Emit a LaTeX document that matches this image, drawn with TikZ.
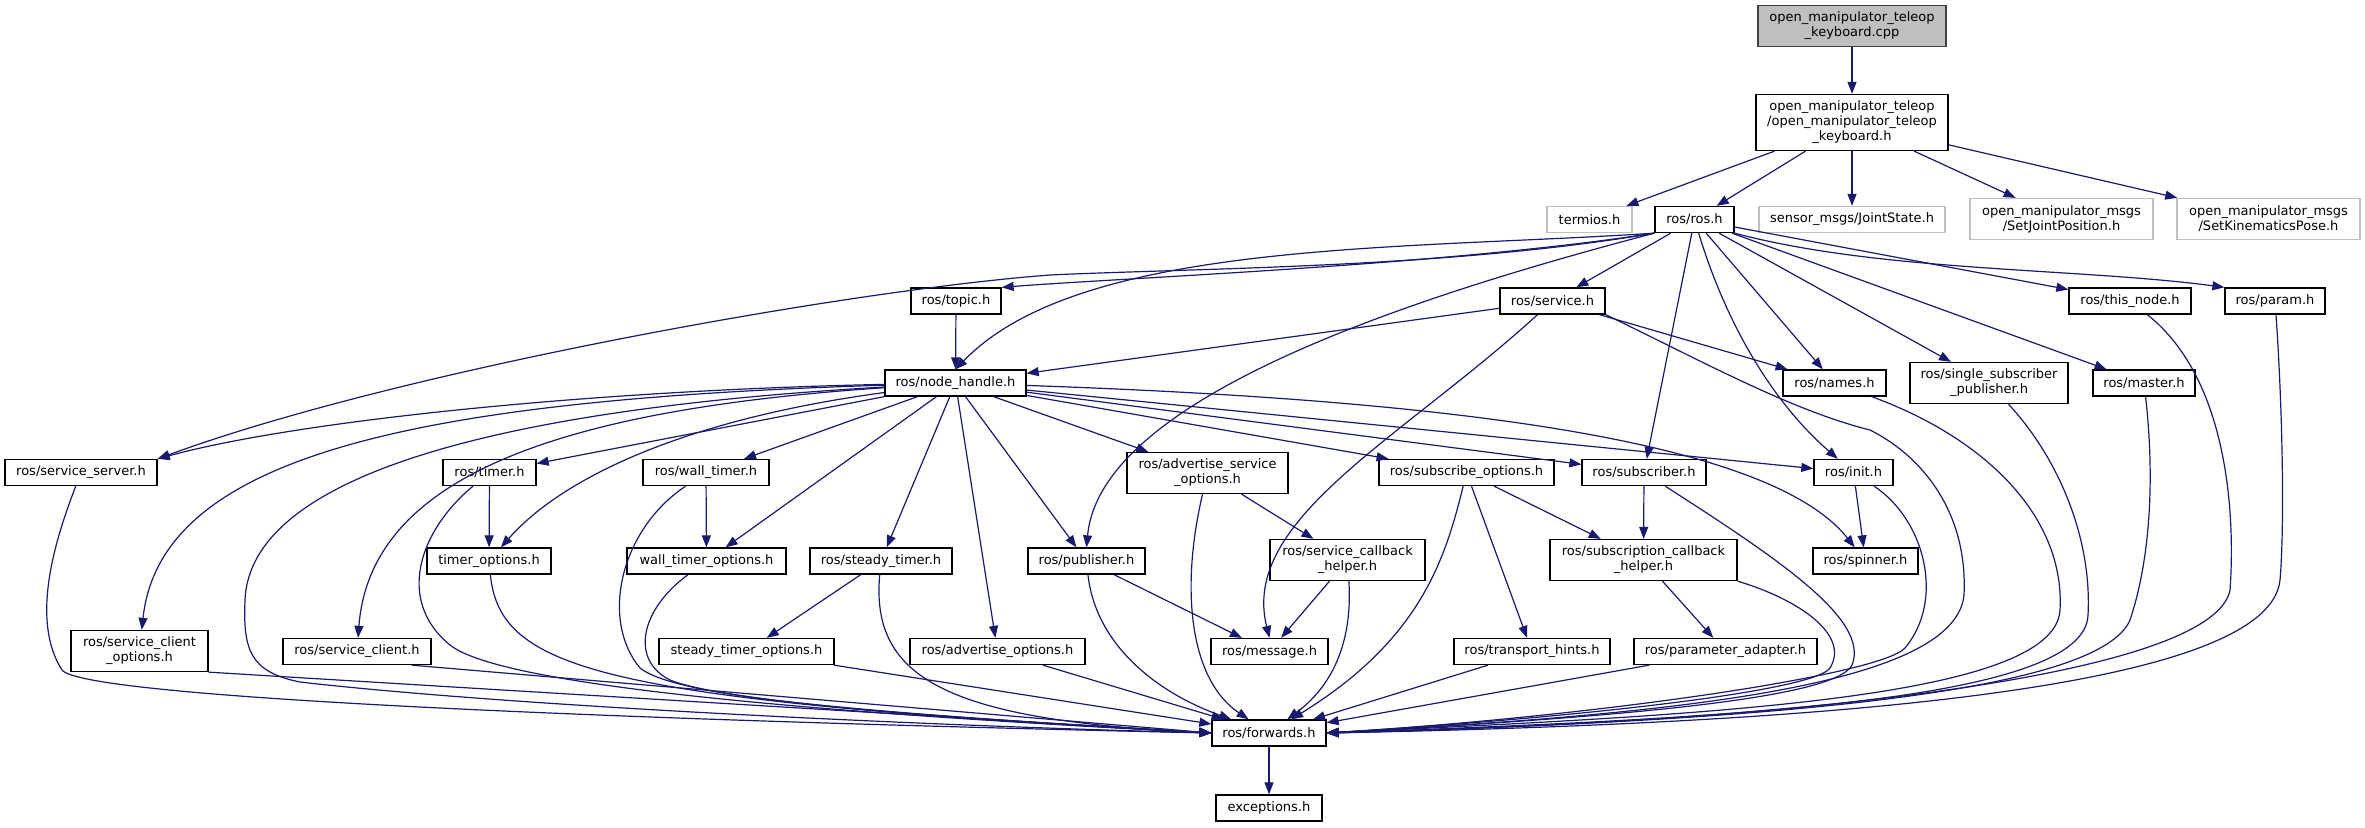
\documentclass[tikz,border=0pt]{standalone}
\usepackage{fontspec}
\setmainfont{DejaVu Sans}
\usetikzlibrary{arrows.meta}
\definecolor{edgeblue}{HTML}{191970}
\definecolor{grayline}{HTML}{BFBFBF}
\definecolor{darkline}{HTML}{404040}
\begin{document}
\begin{tikzpicture}[x=1pt, y=-1pt,
    font=\fontsize{13}{15}\selectfont,
    file/.style={draw=black, fill=white, line width=1.3pt, inner sep=0pt, align=center, minimum height=26pt},
    sysfile/.style={file, draw=grayline},
    mainfile/.style={file, draw=darkline, fill=grayline},
    twolines/.style={minimum height=41pt},
    threelines/.style={minimum height=56pt},
    dep/.style={->, >={Triangle[length=12pt,width=9pt]}, draw=edgeblue, line width=1.2pt}]
        \useasboundingbox (0,0) rectangle (2365,827);
        % top of the graph
        \node[mainfile, twolines, minimum width=188pt] (cpp) at (1852,26) {open\_manipulator\_teleop\\\_keyboard.cpp};
        \node[file, threelines, minimum width=192pt] (kbd) at (1852,122.5) {open\_manipulator\_teleop\\/open\_manipulator\_teleop\\\_keyboard.h};
        \node[sysfile, minimum width=85pt] (termios) at (1589.5,219.5) {termios.h};
        \node[file, minimum width=79pt] (ros) at (1694.5,219.5) {ros/ros.h};
        \node[sysfile, minimum width=186pt] (jointstate) at (1852,219.5) {sensor\_msgs/JointState.h};
        \node[sysfile, twolines, minimum width=183pt] (setjoint) at (2061.5,219) {open\_manipulator\_msgs\\/SetJointPosition.h};
        \node[sysfile, twolines, minimum width=183pt] (setpose) at (2268.5,219) {open\_manipulator\_msgs\\/SetKinematicsPose.h};
        % ros headers
        \node[file, minimum width=90pt] (topic) at (956,301) {ros/topic.h};
        \node[file, minimum width=105pt] (service) at (1552.5,301) {ros/service.h};
        \node[file, minimum width=122pt] (thisnode) at (2130,301) {ros/this\_node.h};
        \node[file, minimum width=100pt] (param) at (2275,301) {ros/param.h};
        \node[file, minimum width=141pt] (nh) at (955.5,383) {ros/node\_handle.h};
        \node[file, minimum width=103pt] (names) at (1834.5,383) {ros/names.h};
        \node[file, twolines, minimum width=158pt] (ssp) at (1989,383) {ros/single\_subscriber\\\_publisher.h};
        \node[file, minimum width=102pt] (master) at (2144,383) {ros/master.h};
        \node[file, minimum width=152pt] (sserver) at (81,472.5) {ros/service\_server.h};
        \node[file, minimum width=93pt] (timer) at (489.5,472.5) {ros/timer.h};
        \node[file, minimum width=126pt] (wtimer) at (706,472.5) {ros/wall\_timer.h};
        \node[file, twolines, minimum width=161pt] (aso) at (1207.5,473) {ros/advertise\_service\\\_options.h};
        \node[file, minimum width=175pt] (subopt) at (1466.5,472.5) {ros/subscribe\_options.h};
        \node[file, minimum width=124pt] (subscriber) at (1644,472.5) {ros/subscriber.h};
        \node[file, minimum width=79pt] (init) at (1853.5,472.5) {ros/init.h};
        \node[file, minimum width=124pt] (topt) at (489,561) {timer\_options.h};
        \node[file, minimum width=159pt] (wtopt) at (706.5,561) {wall\_timer\_options.h};
        \node[file, minimum width=142pt] (steady) at (881,561) {ros/steady\_timer.h};
        \node[file, minimum width=117pt] (publisher) at (1086.5,561) {ros/publisher.h};
        \node[file, twolines, minimum width=155pt] (sch) at (1347.5,560) {ros/service\_callback\\\_helper.h};
        \node[file, twolines, minimum width=187pt] (subcb) at (1643.5,560) {ros/subscription\_callback\\\_helper.h};
        \node[file, minimum width=105pt] (spinner) at (1865.5,561) {ros/spinner.h};
        \node[file, twolines, minimum width=137pt] (sco) at (139.5,651) {ros/service\_client\\\_options.h};
        \node[file, minimum width=148pt] (sclient) at (357,651.5) {ros/service\_client.h};
        \node[file, minimum width=175pt] (stopt) at (746.5,651.5) {steady\_timer\_options.h};
        \node[file, minimum width=175pt] (advopt) at (997.5,651.5) {ros/advertise\_options.h};
        \node[file, minimum width=117pt] (message) at (1269.5,651.5) {ros/message.h};
        \node[file, minimum width=156pt] (thints) at (1532,651.5) {ros/transport\_hints.h};
        \node[file, minimum width=183pt] (padapter) at (1725.5,651.5) {ros/parameter\_adapter.h};
        \node[file, minimum width=114pt] (fwd) at (1269,733) {ros/forwards.h};
        \node[file, minimum width=106pt] (exc) at (1269,808) {exceptions.h};
        % includes of the two top files
        \draw[dep] (cpp) -- (kbd);
        \draw[dep] (kbd) -- (termios);
        \draw[dep] (kbd) -- (ros);
        \draw[dep] (kbd) -- (jointstate);
        \draw[dep] (kbd) -- (setjoint);
        \draw[dep] (kbd) -- (setpose);
        % ros/ros.h
        \draw[dep] (ros.south west) .. controls (1450,268) and (1200,268) .. (1050,275) .. controls (850,290) and (400,370) .. (sserver.north east);
        \draw[dep] (ros.south west) .. controls (1450,265) and (1120,278) .. (topic.north east);
        \draw[dep] (ros.south west) .. controls (1400,250) and (1080,240) .. (nh.north);
        \draw[dep] (ros) -- (service);
        \draw[dep] (ros.south west) .. controls (1400,300) and (1100,400) .. (publisher.north);
        \draw[dep] (ros) -- (names);
        \draw[dep] (ros) -- (subscriber);
        \draw[dep] (ros) .. controls (1725,320) and (1770,400) .. (init);
        \draw[dep] (ros) -- (ssp);
        \draw[dep] (ros) -- (master);
        \draw[dep] (ros) -- (thisnode);
        \draw[dep] (ros.south east) .. controls (1880,272) and (2080,268) .. (param.north west);
        % ros/topic.h and ros/service.h
        \draw[dep] (topic) -- (nh);
        \draw[dep] (service) -- (nh);
        \draw[dep] (service) -- (names);
        \draw[dep] (service) .. controls (1400,440) and (1240,520) .. (message.north);
        \draw[dep] (service.south east) .. controls (1700,360) and (1790,410) .. (1870,430) .. controls (1920,455) and (1968,510) .. (1964,595) .. controls (1955,690) and (1650,715) .. (fwd.east);
        % ros/node_handle.h
        \draw[dep] (nh) .. controls (600,390) and (300,420) .. (sserver.north east);
        \draw[dep] (nh) .. controls (400,400) and (160,460) .. (sco);
        \draw[dep] (nh) .. controls (550,410) and (370,480) .. (sclient);
        \draw[dep] (nh) .. controls (480,410) and (250,480) .. (245,600) .. controls (243,650) and (250,672) .. (300,682) .. controls (500,705) and (900,725) .. (fwd.west);
        \draw[dep] (nh) -- (timer);
        \draw[dep] (nh) .. controls (680,420) and (560,480) .. (topt);
        \draw[dep] (nh) -- (wtimer);
        \draw[dep] (nh) -- (wtopt);
        \draw[dep] (nh) -- (steady);
        \draw[dep] (nh) -- (advopt);
        \draw[dep] (nh) -- (publisher);
        \draw[dep] (nh) -- (aso);
        \draw[dep] (nh) -- (subopt);
        \draw[dep] (nh) -- (subscriber);
        \draw[dep] (nh) -- (init);
        \draw[dep] (nh) .. controls (1450,400) and (1770,440) .. (spinner);
        % the middle ranks
        \draw[dep] (timer) -- (topt);
        \draw[dep] (wtimer) -- (wtopt);
        \draw[dep] (aso) -- (sch);
        \draw[dep] (subopt) -- (subcb);
        \draw[dep] (subopt) -- (thints);
        \draw[dep] (subscriber) -- (subcb);
        \draw[dep] (init) -- (spinner);
        \draw[dep] (steady) -- (stopt);
        \draw[dep] (publisher) -- (message);
        \draw[dep] (sch) -- (message);
        \draw[dep] (subcb) -- (padapter);
        % everything into ros/forwards.h, from the left
        \draw[dep] (sserver) .. controls (55,540) and (30,620) .. (62,670) .. controls (85,700) and (700,722) .. (fwd.west);
        \draw[dep] (sco.south east) -- (fwd.west);
        \draw[dep] ([xshift=-20pt]sclient.south east) -- (fwd.west);
        \draw[dep] (timer) .. controls (420,530) and (395,600) .. (450,645) .. controls (500,685) and (800,712) .. (fwd.west);
        \draw[dep] (topt) .. controls (500,670) and (600,700) .. (fwd.west);
        \draw[dep] (wtimer) .. controls (620,530) and (600,620) .. (640,668) .. controls (680,700) and (900,715) .. (fwd.west);
        \draw[dep] (wtopt) .. controls (640,610) and (630,660) .. (670,680) .. controls (720,700) and (900,715) .. (fwd.west);
        \draw[dep] (stopt) -- (fwd);
        \draw[dep] (steady) .. controls (870,680) and (950,720) .. (fwd.west);
        \draw[dep] (advopt) -- (fwd);
        \draw[dep] (publisher) .. controls (1095,640) and (1150,690) .. (fwd);
        \draw[dep] (aso) .. controls (1180,590) and (1190,680) .. (fwd);
        \draw[dep] (sch) .. controls (1352,630) and (1340,680) .. (fwd);
        \draw[dep] (subopt) .. controls (1445,560) and (1420,640) .. (fwd);
        \draw[dep] (thints) -- (fwd);
        \draw[dep] (padapter) -- (fwd);
        % and from the right
        \draw[dep] (subscriber) .. controls (1780,560) and (1870,620) .. (1852,665) .. controls (1835,700) and (1600,718) .. (fwd.east);
        \draw[dep] (subcb.south east) .. controls (1800,600) and (1850,635) .. (1830,668) .. controls (1815,690) and (1600,716) .. (fwd.east);
        \draw[dep] (init) .. controls (1925,520) and (1945,600) .. (1905,648) .. controls (1880,675) and (1600,716) .. (fwd.east);
        \draw[dep] (names) .. controls (1990,440) and (2065,520) .. (2060,610) .. controls (2055,700) and (1700,715) .. (fwd.east);
        \draw[dep] (ssp) .. controls (2060,460) and (2092,540) .. (2088,615) .. controls (2085,700) and (1750,718) .. (fwd.east);
        \draw[dep] (master) .. controls (2155,480) and (2150,560) .. (2130,620) .. controls (2100,690) and (1800,720) .. (fwd.east);
        \draw[dep] (thisnode) .. controls (2230,380) and (2235,520) .. (2230,590) .. controls (2215,670) and (1850,720) .. (fwd.east);
        \draw[dep] (param) .. controls (2282,400) and (2285,520) .. (2280,580) .. controls (2270,680) and (1900,722) .. (fwd.east);
        \draw[dep] (fwd) -- (exc);
\end{tikzpicture}
\end{document}
